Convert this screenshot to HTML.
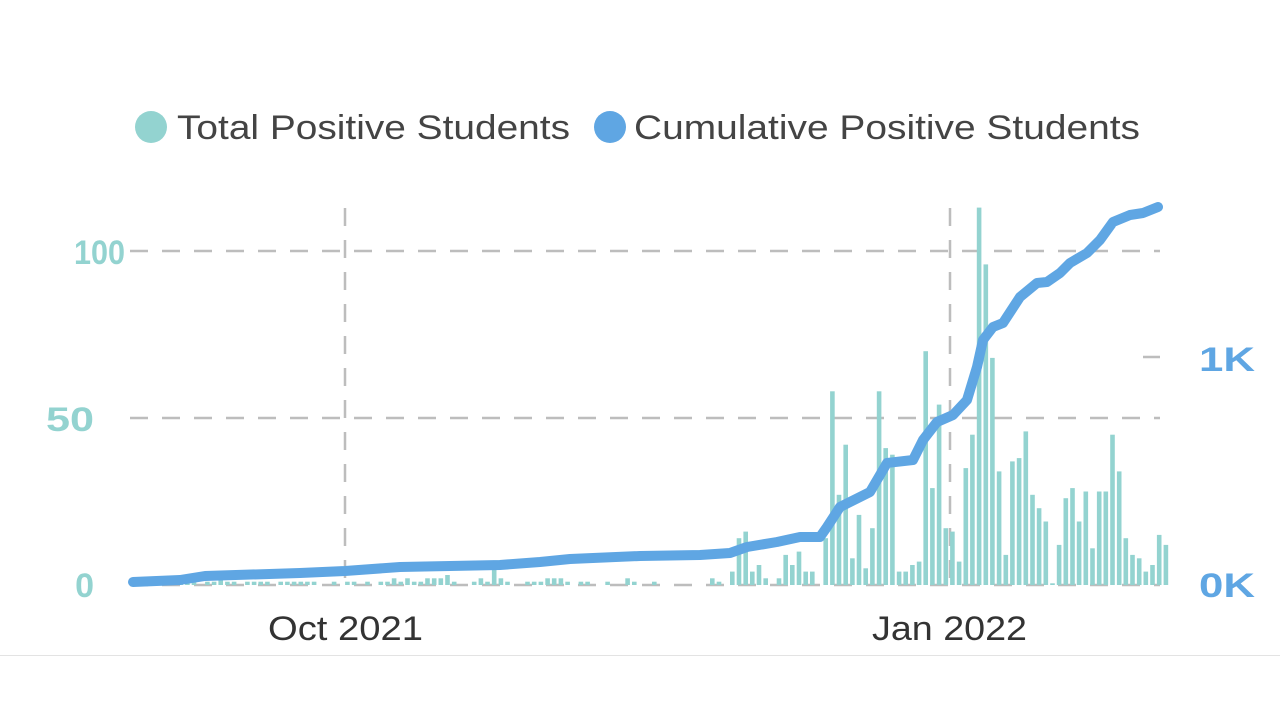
<!DOCTYPE html>
<html><head><meta charset="utf-8"><style>
html,body{margin:0;padding:0;background:#fff;width:1280px;height:720px;overflow:hidden}
svg{display:block}
text{font-family:"Liberation Sans","DejaVu Sans",sans-serif}
</style></head><body>
<svg width="1280" height="720" viewBox="0 0 1280 720">
<circle cx="151" cy="127" r="16" fill="#93d3d0"/>
<text x="177" y="139" font-size="34" fill="#444" textLength="393" lengthAdjust="spacingAndGlyphs">Total Positive Students</text>
<circle cx="610" cy="127" r="16" fill="#5fa6e3"/>
<text x="634" y="139" font-size="34" fill="#444" textLength="506" lengthAdjust="spacingAndGlyphs">Cumulative Positive Students</text>
<g stroke="#bdbdbd" stroke-width="2.5" stroke-dasharray="18,14" fill="none">
<line x1="130" y1="251" x2="1160" y2="251"/>
<line x1="130" y1="418" x2="1160" y2="418"/>
<line x1="130" y1="585" x2="1160" y2="585"/>
<line x1="345" y1="208" x2="345" y2="585"/>
<line x1="950" y1="208" x2="950" y2="585"/>
<line x1="1143" y1="357" x2="1160" y2="357" stroke-dasharray="none"/>
</g>
<g id="bars" fill="#93d3d0"></g>
<polyline fill="none" stroke="#5fa6e3" stroke-width="10" stroke-linejoin="round" stroke-linecap="round" points="133,582 180,580 205,576 300,573 345,571 400,567 450,566 500,565 540,562 570,559 640,556 700,555 730,553 747,547 777,542 800,537 820,537 827,527 840,507 860,497 870,492 887,463 913,460 923,440 937,422 953,415 967,400 977,367 983,340 993,327 1003,323 1020,297 1037,283 1047,282 1060,273 1070,263 1087,253 1100,240 1113,222 1130,215 1143,213 1158,207"/>
<g font-size="34" font-weight="bold" fill="#93d3d0" text-anchor="end">
<text x="125" y="264" textLength="51" lengthAdjust="spacingAndGlyphs">100</text><text x="94" y="431" textLength="48" lengthAdjust="spacingAndGlyphs">50</text><text x="94" y="597">0</text>
</g>
<g font-size="34" font-weight="bold" fill="#5fa6e3">
<text x="1199" y="371" textLength="56" lengthAdjust="spacingAndGlyphs">1K</text><text x="1199" y="597" textLength="56" lengthAdjust="spacingAndGlyphs">0K</text>
</g>
<g font-size="34" fill="#333">
<text x="268" y="640" textLength="155" lengthAdjust="spacingAndGlyphs">Oct 2021</text><text x="872" y="640" textLength="155" lengthAdjust="spacingAndGlyphs">Jan 2022</text>
</g>
<line x1="0" y1="655.5" x2="1280" y2="655.5" stroke="#e3e3e3" stroke-width="1"/>
</svg>
<script>
var late=[2,1,0,4,14,16,4,6,2,0,2,9,6,10,4,4,0,14,58,27,42,8,21,5,17,58,41,39,4,4,6,7,70,29,54,17,16,7,35,45,113,96,68,34,9,37,38,46,27,23,19,0.5,12,26,29,19,28,11,28,28,45,34,14,9,8,4,6,15,12];
var early=[6,1,3,1,0,1,0,1,0,1,5,1,1,1,1,1,0,1,1,0,1,0,1,1,1,1,0,1,2,1,1,1,0,1,1,1,0,1,1,2,1,1,0,1,1,1,1,0,1,1,1,1,1,1,0,0,1,0,1,1,0,1,0,1,1,2,1,2,1,1,2,2,2,3,1,0,0,1,2,1,5,2,1,0,0,1,1,1,2,2,2,1,0,1,1,0,0,1,0,0,2,1,0,0,1,0,0,0,0,0,0,0,0];
var g=document.getElementById('bars'),s='';
var n=early.length;
for(var i=0;i<early.length;i++){var x=712-6.67*(n-i);var v=early[i];if(x<133)continue;var h=v*3.34;if(h>0)s+='<rect x="'+x.toFixed(1)+'" y="'+(585-h).toFixed(1)+'" width="4.6" height="'+h.toFixed(1)+'"/>';}
for(var i=0;i<late.length;i++){var x=710+6.67*i;var h=late[i]*3.34;if(h>0)s+='<rect x="'+x.toFixed(1)+'" y="'+(585-h).toFixed(1)+'" width="4.6" height="'+h.toFixed(1)+'"/>';}
g.innerHTML=s;
</script>
</body></html>
